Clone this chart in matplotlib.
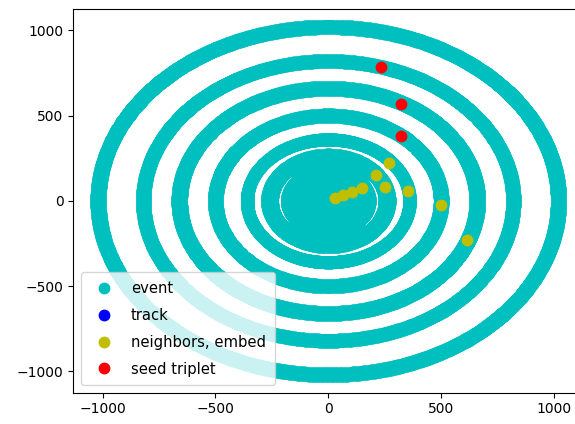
import numpy as np # hit coordinates
import matplotlib
matplotlib.use("Agg")
import matplotlib.pyplot as plt # plot the event display

# Barrel layer radii (mm) and the radial spread of hits around each layer
layer_radius = [32, 72, 116, 172, 260, 360, 500, 660, 820, 1020]
layer_spread = [8, 8, 8, 12, 12, 2, 7, 9, 6, 8]

# Neighbours found in embedding space around the seed
neighbor_x = [29, 63, 103, 151, 250, 213, 268, 354, 501, 616]
neighbor_y = [15, 34, 54, 75, 81, 152, 224, 60, -24, -230]

# Seed triplet hits
seed_x = [232, 320, 320]
seed_y = [783, 568, 380]

# Track hits (none for this event)
track_x = []
track_y = []

marker = 7.5

# Build the event hits layer by layer
event_x = []
event_y = []
for r, dr in zip(layer_radius, layer_spread):
    n_phi = int(r * 1.6) + 120
    phi = np.linspace(0, 2 * np.pi, n_phi, endpoint=False)
    for rr in np.linspace(r - dr, r + dr, 4):
        event_x.append(rr * np.cos(phi))
        event_y.append(rr * np.sin(phi))
event_x = np.concatenate(event_x)
event_y = np.concatenate(event_y)

fig = plt.figure(figsize=(5.75, 4.24), dpi=100)
ax = fig.add_axes([73.3 / 575, 31.3 / 424, 510 / 575, 383.7 / 424])

ax.plot(event_x, event_y, 'co', markersize=marker, label='event')
ax.plot(track_x, track_y, 'bo', markersize=marker, label='track')
ax.plot(neighbor_x, neighbor_y, 'yo', markersize=marker, label='neighbors, embed')
ax.plot(seed_x, seed_y, 'ro', markersize=marker, label='seed triplet')

ax.set_xlim(-1130, 1130)
ax.set_ylim(-1125, 1125)
ax.set_xticks([-1000, -500, 0, 500, 1000])
ax.set_yticks([-1000, -500, 0, 500, 1000])
ax.legend(loc='lower left', fontsize=10.6, labelspacing=0.8, borderpad=0.6)

fig.savefig('out.png', dpi=100)
